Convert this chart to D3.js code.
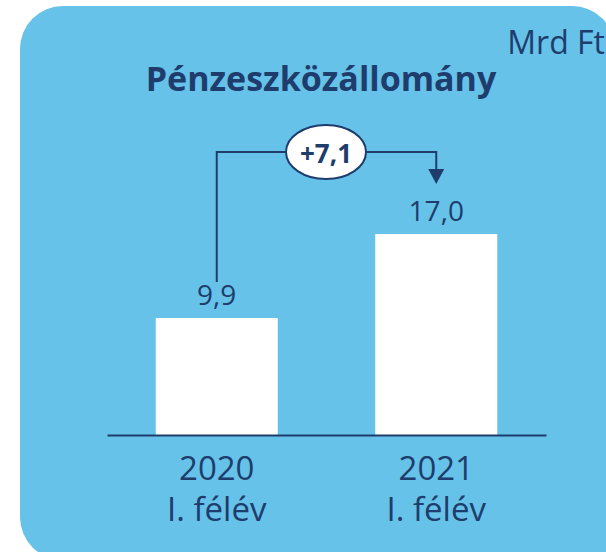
<!DOCTYPE html>
<html>
<head>
<meta charset="utf-8">
<script src="https://cdn.jsdelivr.net/npm/d3@7"></script>
<style>
  body { margin: 0; background: #fff; }
  text { font-family: "Open Sans", sans-serif; fill: #1e3d6d; }
</style>
</head>
<body>
<div class="chart"></div>
<script>
// Pénzeszközállomány chart

var years = ["2020", "2021"];
var periods = ["I. félév", "I. félév"];
var values = [9.9, 17.0];
var unitLabel = "Mrd Ft";
var titleText = "Pénzeszközállomány";

var svgWidth = 606;
var svgHeight = 552;
var navy = "#1e3d6d";

var svg = d3.select(".chart")
    .append("svg")
    .attr("width", svgWidth)
    .attr("height", svgHeight);

// background panel, rounded corners
var bg = d3.path();
var r = 43, x0 = 20, y0 = 6, x1 = 615, y1 = 560;
bg.moveTo(x0 + r, y0);
bg.lineTo(x1 - r, y0);
bg.arcTo(x1, y0, x1, y0 + r, r);
bg.lineTo(x1, y1);
bg.lineTo(x0 + r, y1);
bg.arcTo(x0, y1, x0, y1 - r, r);
bg.lineTo(x0, y0 + r);
bg.arcTo(x0, y0, x0 + r, y0, r);
bg.closePath();
svg.append("path").attr("d", bg.toString()).attr("fill", "#66c2e8");

// scales
var xScale = d3.scaleBand()
    .domain(years)
    .range([107, 546])
    .paddingInner(0.444)
    .paddingOuter(0.222);

var yScale = d3.scaleLinear()
    .domain([0, 20])
    .range([435, 435 - 20 * 11.82]);

// bars
svg.selectAll("rect.bar")
    .data(values)
    .enter()
    .append("rect")
    .attr("class", "bar")
    .attr("x", (d, i) => xScale(years[i]))
    .attr("y", d => yScale(d))
    .attr("width", xScale.bandwidth())
    .attr("height", d => yScale(0) - yScale(d))
    .attr("fill", "#ffffff");

// value labels
svg.selectAll("text.val")
    .data(values)
    .enter()
    .append("text")
    .attr("class", "val")
    .attr("x", (d, i) => xScale(years[i]) + xScale.bandwidth() / 2)
    .attr("y", d => yScale(d) - 13)
    .attr("text-anchor", "middle")
    .style("font-size", "28px")
    .text(d => d.toFixed(1).replace(".", ","));

// x axis
var bottomAxis = d3.axisBottom(xScale).tickSize(0).tickPadding(0);
var xAxis = svg.append("g")
    .attr("transform", `translate(0, ${yScale(0)})`)
    .call(bottomAxis);
xAxis.select(".domain").attr("stroke", navy).attr("stroke-width", 2);
xAxis.selectAll(".tick text").each(function (d, i) {
    var t = d3.select(this).text(null)
        .attr("y", 0).attr("dy", null)
        .style("font-size", "33px")
        .attr("fill", navy);
    t.append("tspan").attr("x", 0).attr("y", 45).text(years[i]);
    t.append("tspan").attr("x", 0).attr("y", 86).text(periods[i]);
});

// change annotation
var cx1 = xScale(years[0]) + xScale.bandwidth() / 2;
var cx2 = xScale(years[1]) + xScale.bandwidth() / 2;
var lineY = 152;
svg.append("path")
    .attr("d", `M${cx1},282 L${cx1},${lineY} L${cx2},${lineY} L${cx2},172`)
    .attr("fill", "none")
    .attr("stroke", navy)
    .attr("stroke-width", 2);
svg.append("path")
    .attr("d", `M${cx2 - 8},169 L${cx2 + 8},169 L${cx2},184 Z`)
    .attr("fill", navy);

svg.append("ellipse")
    .attr("cx", 326)
    .attr("cy", lineY)
    .attr("rx", 40)
    .attr("ry", 27)
    .attr("fill", "#fff")
    .attr("stroke", navy)
    .attr("stroke-width", 2);
svg.append("text")
    .attr("x", 326)
    .attr("y", 163)
    .attr("text-anchor", "middle")
    .style("font-size", "26px")
    .style("font-weight", "bold")
    .text("+" + (values[1] - values[0]).toFixed(1).replace(".", ","));

// title and unit
svg.append("text")
    .attr("x", 321)
    .attr("y", 91)
    .attr("text-anchor", "middle")
    .style("font-size", "34px")
    .style("font-weight", "bold")
    .text(titleText);

svg.append("text")
    .attr("x", 605)
    .attr("y", 54)
    .attr("text-anchor", "end")
    .style("font-size", "32px")
    .text(unitLabel);
</script>
</body>
</html>
